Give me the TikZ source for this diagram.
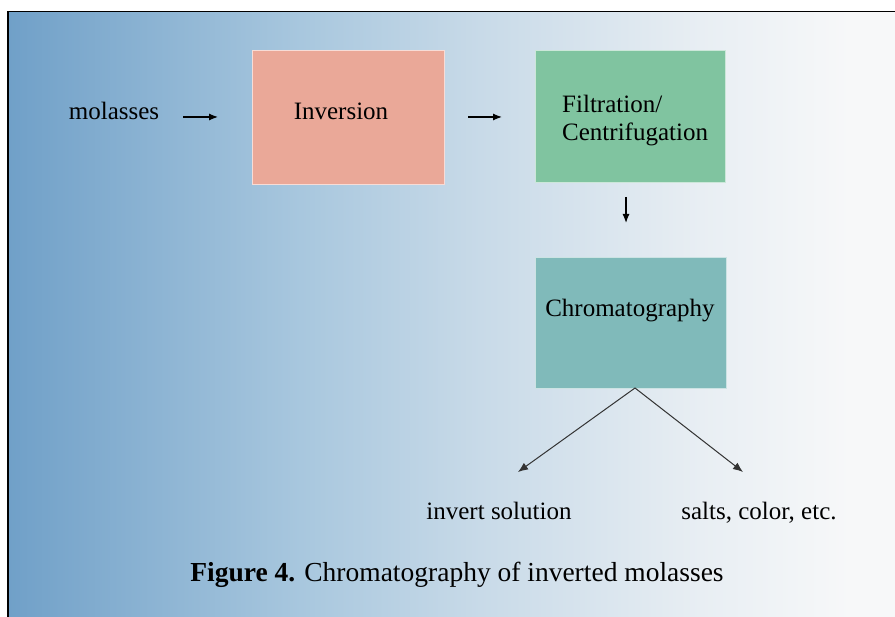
\documentclass[tikz,border=0pt]{standalone}
\usepackage{fontspec}
\setmainfont{Liberation Serif}
\usetikzlibrary{arrows.meta}
\definecolor{bgA}{RGB}{112,160,200}
\definecolor{bgB}{RGB}{168,199,222}
\definecolor{bgC}{RGB}{200,218,232}
\definecolor{bgD}{RGB}{232,238,243}
\definecolor{bgE}{RGB}{247,248,249}
\definecolor{invcol}{RGB}{234,168,152}
\definecolor{filcol}{RGB}{128,196,160}
\definecolor{chrcol}{RGB}{128,186,186}
\pgfdeclarehorizontalshading{bgshade}{100bp}{color(0bp)=(bgA); color(25bp)=(bgA); color(41.5bp)=(bgB); color(51.6bp)=(bgC); color(64bp)=(bgD); color(72.5bp)=(bgE); color(100bp)=(bgE)}
\begin{document}
\begin{tikzpicture}[x=1pt,y=-1pt,
  every node/.style={inner sep=0pt, font=\fontsize{25}{28}\selectfont},
  arr/.style={line width=1.2pt, -{Latex[length=9pt,width=7pt]}},
  diag/.style={line width=1pt, black!80, -{Latex[length=10pt,width=8pt]}}]
\useasboundingbox (0,0) rectangle (895,617);
\fill[white] (0,0) rectangle (895,617);
\shade[shading=bgshade] (8,12) rectangle (895,617);
\draw[line width=1.5pt] (8,617) -- (8,11.5) -- (895,11.5);
% boxes
\fill[invcol, draw=invcol!40!white, line width=0.8pt] (252,50) rectangle (444,184);
\fill[filcol, draw=filcol!40!white, line width=0.8pt] (535,50) rectangle (725,182);
\fill[chrcol, draw=chrcol!40!white, line width=0.8pt] (535,257) rectangle (726,388);
\coordinate (chrbottom) at (635,388);
% texts
\node[anchor=base] (mol) at (114,120) {molasses};
\node[anchor=base] (inv) at (341,120) {Inversion};
\node[anchor=north west, align=left] (fil) at (562,95) {Filtration/\\Centrifugation};
\node[anchor=base] (chr) at (630,317) {Chromatography};
\node[anchor=base] (invsol) at (499,520) {invert solution};
\node[anchor=base] (salts) at (759,520) {salts, color, etc.};
\node[anchor=base, font=\fontsize{27.5}{30}\selectfont] (cap) at (457,582) {\textbf{Figure 4.} Chromatography of inverted molasses};
% arrows
\coordinate (a1s) at (183,117); \coordinate (a1e) at (218,117);
\coordinate (a2s) at (468,117); \coordinate (a2e) at (502,117);
\coordinate (a3s) at (626,197); \coordinate (a3e) at (626,223);
\coordinate (l1) at (518,472); \coordinate (r1) at (743,472);
\draw[arr] (a1s) -- (a1e);
\draw[arr] (a2s) -- (a2e);
\draw[arr] (a3s) -- (a3e);
\draw[diag] (chrbottom) -- (l1);
\draw[diag] (chrbottom) -- (r1);
\end{tikzpicture}
\end{document}
